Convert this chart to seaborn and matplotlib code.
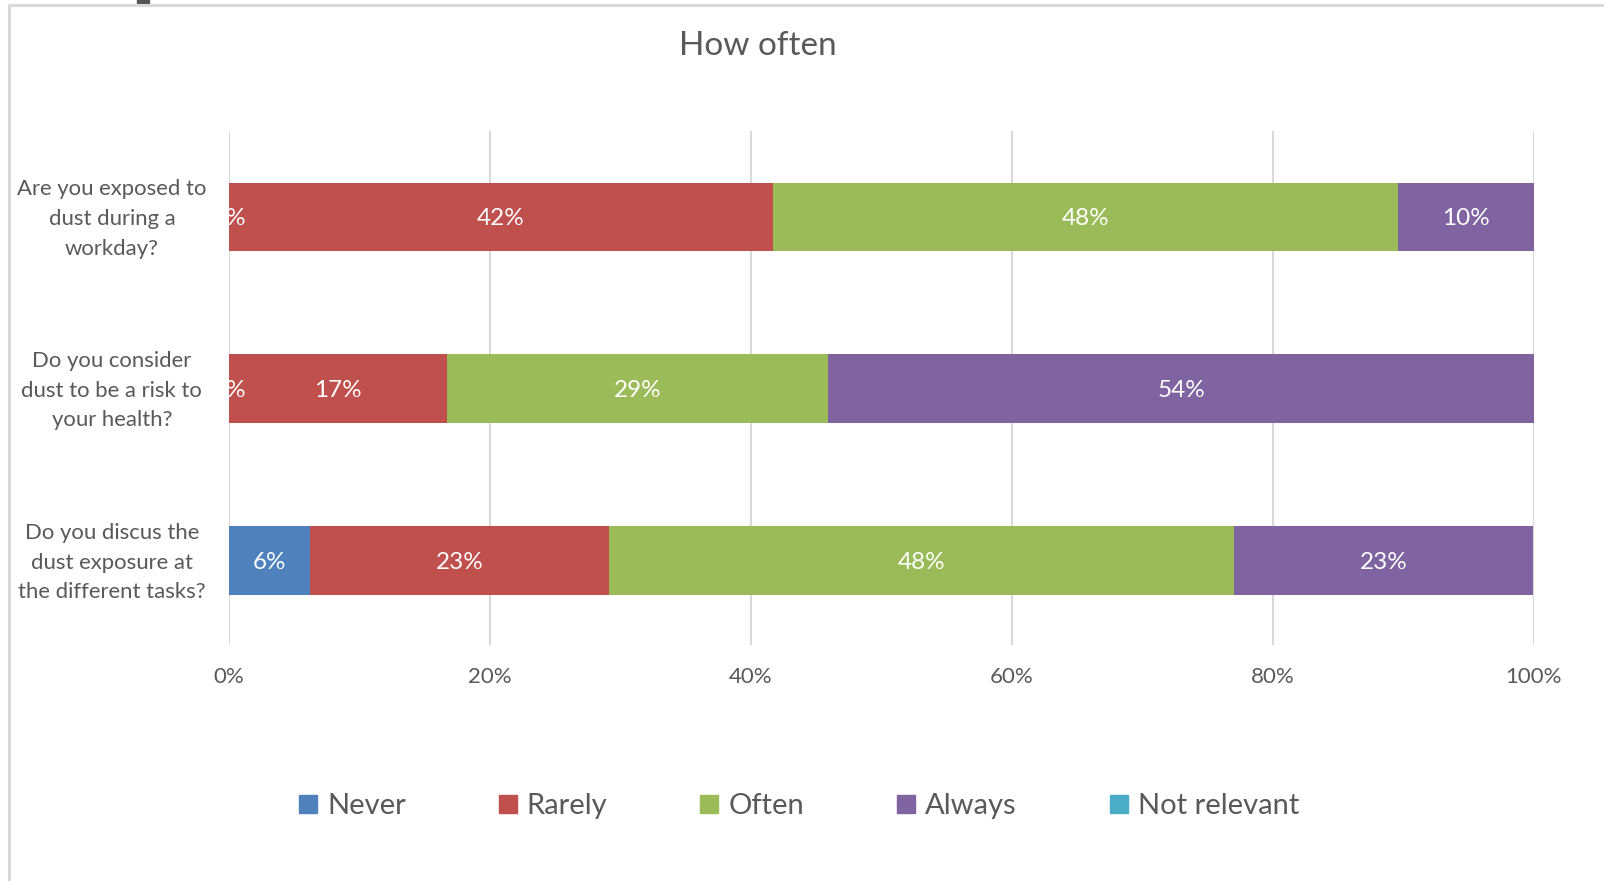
import matplotlib
matplotlib.use("Agg")
import matplotlib.pyplot as plt
from matplotlib.lines import Line2D
from matplotlib.patches import Rectangle
from matplotlib.transforms import ScaledTranslation
import seaborn as sns
import pandas as pd
import numpy as np

questions = ["Are you exposed to\ndust during a\nworkday?",
             "Do you consider\ndust to be a risk to\nyour health?",
             "Do you discus the\ndust exposure at\nthe different tasks?"]
categories = ["Never", "Rarely", "Often", "Always", "Not relevant"]
never = [0.0, 0.0, 6.25]
rarely = [41.7, 16.7, 22.9]
often = [47.9, 29.2, 47.9]
always = [10.4, 54.2, 22.9]
not_relevant = [np.nan, np.nan, np.nan]
colors = ["#4F81BD", "#C0504D", "#9BBB59", "#8064A2", "#4BACC6"]
xticks = [0, 20, 40, 60, 80, 100]

TXT = "#595959"
GRID = "#D9D9D9"
FONT = "Lato"

sns.set_theme(style="white")
plt.rcParams["font.family"] = [FONT, "DejaVu Sans"]

fig = plt.figure(figsize=(16.04, 8.81), dpi=100)
ax = fig.add_axes([0.1427, 0.2679, 0.8136, 0.5834])

series = [never, rarely, often, always]
df = pd.DataFrame({c: s for c, s in zip(categories[:4], series)})
df["q"] = questions
cum = df[categories[:4]].cumsum(axis=1)

# draw cumulative bars from last to first for stacking
for i in range(3, -1, -1):
    sns.barplot(x=cum[categories[i]], y=df["q"], color=colors[i], orient="h",
                width=0.4, saturation=1, ax=ax, linewidth=0, zorder=3)

# labels
for r in range(len(questions)):
    left = 0.0
    for i in range(4):
        v = series[i][r]
        ax.text(left + v / 2, r, f"{round(v):d}%", ha="center", va="center_baseline",
                color="white", fontsize=17.5, zorder=5, clip_on=True)
        left += v

ax.set_xlim(0, 100)
ax.set_ylim(2.49, -0.5)
ax.set_xticks(xticks)
ax.set_xticklabels([f"{t}%" for t in xticks], color=TXT, fontsize=16)
ax.set_yticks(range(len(questions)))
ax.set_yticklabels([])
ax.tick_params(axis="y", length=0)
ax.tick_params(axis="x", length=0, pad=16)
ax.set_xlabel("")
ax.set_ylabel("")
ax.xaxis.grid(True, color=GRID, linewidth=1.5, zorder=0)
ax.yaxis.grid(False)
ax.set_axisbelow(True)
for s in ax.spines.values():
    s.set_visible(False)

# category labels, centred in the left margin
lbl_tr = ax.get_yaxis_transform() + ScaledTranslation(-117 / 100, -2 / 100, fig.dpi_scale_trans)
for r, q in enumerate(questions):
    ax.text(0, r, q, transform=lbl_tr, ha="center", va="center",
            multialignment="center", color=TXT, fontsize=15.9, linespacing=1.6,
            clip_on=False)

fig.text(758 / 1604, 1 - 46 / 881, "How often", ha="center", va="center",
         fontsize=24, color=TXT)

handles = [Line2D([], [], marker="s", linestyle="", markersize=13,
                  markerfacecolor=c, markeredgecolor=c) for c in colors]
fig.legend(handles, categories, loc="center", bbox_to_anchor=(797 / 1604, 1 - 806 / 881),
           ncol=5, frameon=False, fontsize=21, labelcolor=TXT,
           columnspacing=3.05, handletextpad=0.2, handlelength=0.9)

# outer chart frame (left and top edges)
fig.add_artist(Line2D([9 / 1604, 9 / 1604], [0, 1 - 5 / 881], transform=fig.transFigure,
                      color=GRID, linewidth=2.2))
fig.add_artist(Line2D([9 / 1604, 1], [1 - 5 / 881, 1 - 5 / 881], transform=fig.transFigure,
                      color=GRID, linewidth=2.2))
fig.add_artist(Rectangle((137 / 1604, 1 - 3 / 881), 12 / 1604, 3 / 881,
                         transform=fig.transFigure, color="#555555"))

fig.savefig("out.png", dpi=100, facecolor="white")
